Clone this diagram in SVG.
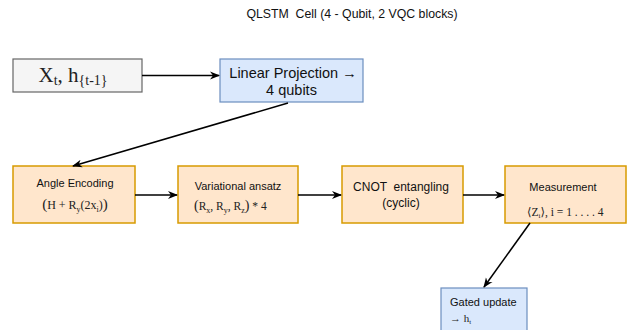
<svg xmlns="http://www.w3.org/2000/svg" width="629" height="330" viewBox="0 0 629 330">
<defs>
<marker id="arr" markerWidth="10" markerHeight="10" refX="9" refY="5" orient="auto" markerUnits="userSpaceOnUse"><path d="M0,1 L10,5 L0,9 L3,5 Z" fill="#000"/></marker>
<style>
.t{font-family:"Liberation Sans",Arial,sans-serif;fill:#111;}
.m{font-family:"Liberation Serif","DejaVu Serif",serif;fill:#222;}
.gray{fill:#f5f5f5;stroke:#666;stroke-width:1.2;}
.blue{fill:#dae8fc;stroke:#6c8ebf;stroke-width:1.2;}
.orange{fill:#ffe6cc;stroke:#d79b00;stroke-width:1.5;}
.c{stroke:#000;stroke-width:1.5;fill:none;marker-end:url(#arr);}
</style>
</defs>
<rect width="629" height="330" fill="#fff"/>
<text class="t" x="352" y="18" font-size="12.3" text-anchor="middle" xml:space="preserve">QLSTM  Cell (4 - Qubit, 2 VQC blocks)</text>
<g id="input">
<rect class="gray" x="13" y="59" width="129" height="33"/>
<text class="m" x="73" y="82" font-size="21" text-anchor="middle">X<tspan font-size="14" dy="3">t</tspan><tspan dy="-3">, h</tspan><tspan font-size="14" dy="3">{t-1}</tspan></text>
</g>
<g id="linproj">
<rect class="blue" x="220" y="59" width="143" height="43"/>
<text class="t" x="293" y="78" font-size="14.5" text-anchor="middle">Linear Projection →</text>
<text class="t" x="291.5" y="95" font-size="14.5" text-anchor="middle">4 qubits</text>
</g>
<g id="angle">
<rect class="orange" x="13" y="166" width="122" height="57"/>
<text class="t" x="75" y="187" font-size="11" text-anchor="middle">Angle Encoding</text>
<text class="m" x="75" y="209" font-size="12" text-anchor="middle"><tspan font-size="15">(</tspan>H  +  R<tspan font-size="8" dy="3">y</tspan><tspan dy="-3">(2x</tspan><tspan font-size="8" dy="3">i</tspan><tspan dy="-3">)</tspan><tspan font-size="15">)</tspan></text>
</g>
<g id="variational">
<rect class="orange" x="178" y="166" width="120" height="57"/>
<text class="t" x="238" y="190" font-size="11" text-anchor="middle">Variational ansatz</text>
<text class="m" x="194" y="210" font-size="11.5"><tspan font-size="14">(</tspan>R<tspan font-size="8" dy="3">x</tspan><tspan dy="-3">,  R</tspan><tspan font-size="8" dy="3">y</tspan><tspan dy="-3">, R</tspan><tspan font-size="8" dy="3">z</tspan><tspan dy="-3" font-size="14">)</tspan> * 4</text>
</g>
<g id="cnot">
<rect class="orange" x="342" y="166" width="121" height="57"/>
<text class="t" x="401" y="191" font-size="12" text-anchor="middle" xml:space="preserve">CNOT  entangling</text>
<text class="t" x="401" y="207" font-size="12" text-anchor="middle">(cyclic)</text>
</g>
<g id="measurement">
<rect class="orange" x="505" y="166" width="121" height="57"/>
<text class="t" x="563" y="191" font-size="11" text-anchor="middle">Measurement</text>
<text class="m" x="527" y="216" font-size="11.5">⟨Z<tspan font-size="7" dy="2">i</tspan><tspan dy="-2">⟩, i  =  1 . . . . 4</tspan></text>
</g>
<g id="gated">
<rect class="blue" x="441" y="288" width="86" height="48"/>
<text class="t" x="450" y="306" font-size="11">Gated update</text>
<text class="m" x="450" y="322" font-size="11">→ h<tspan font-size="7" dy="2">t</tspan></text>
</g>
<g id="connectors">
<line class="c" x1="142" y1="75.5" x2="219" y2="75.5"/>
<line class="c" x1="288" y1="103" x2="73" y2="166"/>
<line class="c" x1="135" y1="195" x2="177" y2="195"/>
<line class="c" x1="298" y1="195" x2="341" y2="195"/>
<line class="c" x1="463" y1="195" x2="504" y2="195"/>
<line class="c" x1="530" y1="223" x2="484" y2="287"/>
</g>
</svg>
